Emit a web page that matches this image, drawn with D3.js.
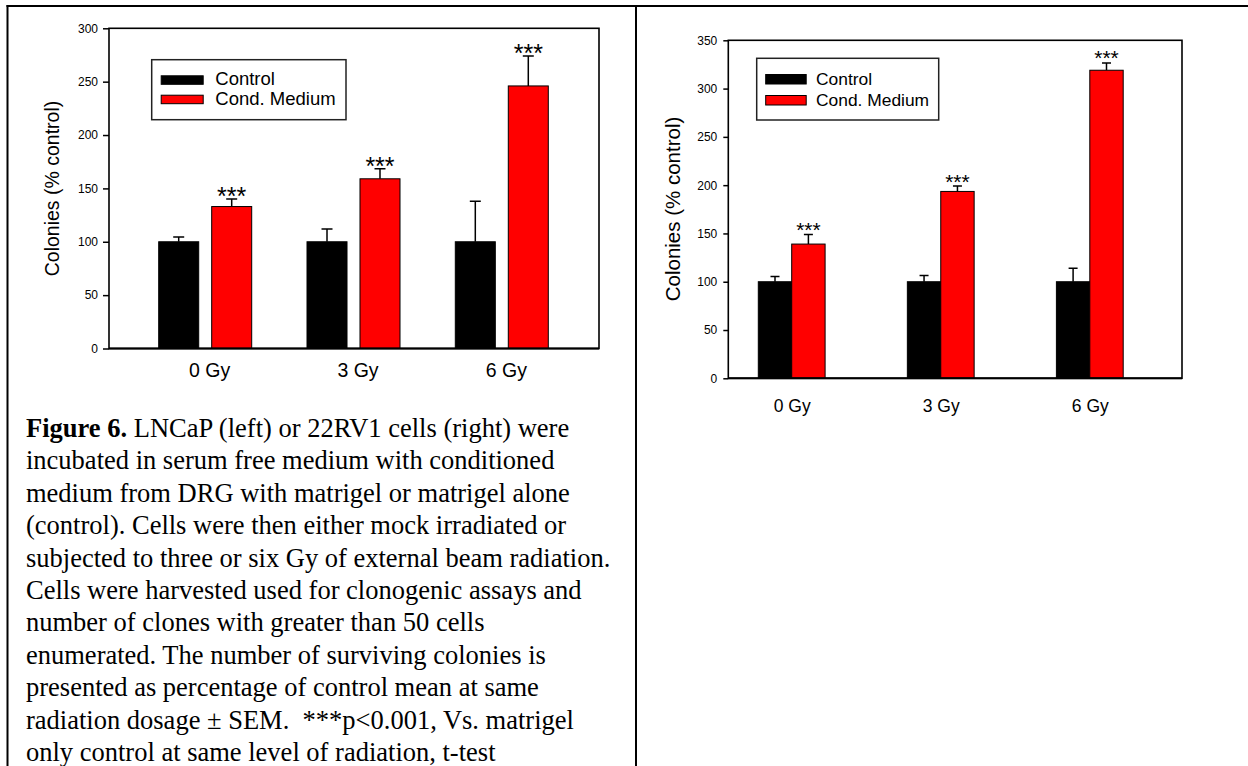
<!DOCTYPE html>
<html>
<head>
<meta charset="utf-8">
<script src="https://d3js.org/d3.v7.min.js"></script>
<style>
  body { margin: 0; background: #fff; }
  svg { display: block; }
</style>
</head>
<body>
<div id="fig"></div>
<script>
// data
var doses = ['0 Gy', '3 Gy', '6 Gy'];
var seriesNames = ['Control', 'Cond. Medium'];
var seriesColors = ['#000000', '#ff0000'];

// LNCaP (left panel)
var lncapControl = [100, 100, 100];
var lncapControlSem = [4.5, 12, 38];
var lncapCond = [133, 159, 246];
var lncapCondSem = [7, 9.5, 28];
var lncapTicks = [0, 50, 100, 150, 200, 250, 300];

// 22RV1 (right panel)
var rv1Control = [100, 100, 100];
var rv1ControlSem = [5.5, 6.5, 14];
var rv1Cond = [139, 193.5, 319];
var rv1CondSem = [10, 5.5, 7.5];
var rv1Ticks = [0, 50, 100, 150, 200, 250, 300, 350];

var stars = ['***', '***', '***'];

var captionLines = [
  'LNCaP (left) or 22RV1 cells (right) were',
  'incubated in serum free medium with conditioned',
  'medium from DRG with matrigel or matrigel alone',
  '(control). Cells were then either mock irradiated or',
  'subjected to three or six Gy of external beam radiation.',
  'Cells were harvested used for clonogenic assays and',
  'number of clones with greater than 50 cells',
  'enumerated. The number of surviving colonies is',
  'presented as percentage of control mean at same',
  'radiation dosage \u00b1 SEM.\u00a0 ***p<0.001, Vs. matrigel',
  'only control at same level of radiation, t-test'
];

var width = 1248;
var height = 766;

var svg = d3.select('#fig').append('svg')
  .attr('width', width)
  .attr('height', height);

// page table frame (top, left, middle divider)
svg.append('line').attr('x1', 6.5).attr('x2', width).attr('y1', 6).attr('y2', 6)
  .attr('stroke', '#000').attr('stroke-width', 2);
svg.append('line').attr('x1', 7.5).attr('x2', 7.5).attr('y1', 5).attr('y2', height)
  .attr('stroke', '#000').attr('stroke-width', 2);
svg.append('line').attr('x1', 636).attr('x2', 636).attr('y1', 5).attr('y2', height)
  .attr('stroke', '#000').attr('stroke-width', 2);

// draws one bar panel given its layout and data
var drawPanel = function(cfg) {
  var g = svg.append('g');

  var y = d3.scaleLinear()
    .domain([0, cfg.ticks[cfg.ticks.length - 1]])
    .range([cfg.bottom, cfg.top]);

  var x = d3.scalePoint()
    .domain(doses)
    .range(cfg.groupRange);

  var inner = d3.scaleBand()
    .domain(seriesNames)
    .range([-cfg.halfGroup, cfg.halfGroup])
    .paddingInner(cfg.barPad);

  var series = [
    {name: seriesNames[0], values: cfg.control, sem: cfg.controlSem, color: seriesColors[0]},
    {name: seriesNames[1], values: cfg.cond, sem: cfg.condSem, color: seriesColors[1]}
  ];

  var rows = [];
  series.forEach(function(s) {
    doses.forEach(function(d, i) {
      rows.push({dose: d, name: s.name, value: s.values[i], sem: s.sem[i], color: s.color, idx: i});
    });
  });

  var barX = function(d) { return x(d.dose) + inner(d.name); };
  var barMid = function(d) { return barX(d) + inner.bandwidth() / 2; };

  // error bars first (only the upper half shows above the bar)
  g.selectAll('.err')
    .data(rows)
    .enter()
    .append('path')
    .attr('fill', 'none')
    .attr('stroke', '#000')
    .attr('stroke-width', 1.5)
    .attr('d', function(d) {
      var cx = barMid(d);
      var top = y(d.value + d.sem);
      return 'M' + cx + ',' + y(d.value) + 'V' + top +
        'M' + (cx - cfg.cap / 2) + ',' + top + 'H' + (cx + cfg.cap / 2);
    });

  g.selectAll('.bar')
    .data(rows)
    .enter()
    .append('rect')
    .attr('x', barX)
    .attr('width', inner.bandwidth())
    .attr('y', function(d) { return y(d.value); })
    .attr('height', function(d) { return y(0) - y(d.value); })
    .attr('fill', function(d) { return d.color; })
    .attr('stroke', '#000')
    .attr('stroke-width', 1);

  // significance stars over the cond. medium bars
  g.selectAll('.star')
    .data(rows.filter(function(d) { return d.name === seriesNames[1]; }))
    .enter()
    .append('text')
    .attr('x', barMid)
    .attr('y', function(d) { return y(d.value + d.sem) + cfg.starDy; })
    .attr('text-anchor', 'middle')
    .style('font-family', 'Arial, "Liberation Sans", sans-serif')
    .style('font-size', cfg.starSize + 'px')
    .text(function(d) { return stars[d.idx]; });

  // plot frame
  g.append('rect')
    .attr('x', cfg.left)
    .attr('y', cfg.top)
    .attr('width', cfg.right - cfg.left)
    .attr('height', cfg.bottom - cfg.top)
    .attr('fill', 'none')
    .attr('stroke', '#000')
    .attr('stroke-width', 1.6);
  g.append('line')
    .attr('x1', cfg.left).attr('x2', cfg.right)
    .attr('y1', cfg.bottom).attr('y2', cfg.bottom)
    .attr('stroke', '#000').attr('stroke-width', 2);

  // y axis
  var yAxis = g.append('g')
    .attr('transform', 'translate(' + cfg.left + ',0)')
    .call(d3.axisLeft(y).tickValues(cfg.ticks).tickSize(cfg.tickLen).tickPadding(cfg.tickPad));
  yAxis.select('.domain').remove();
  yAxis.selectAll('line').attr('stroke', '#000').attr('stroke-width', 1.5);
  yAxis.selectAll('text')
    .attr('fill', '#000')
    .style('font-family', 'Arial, "Liberation Sans", sans-serif')
    .style('font-size', '12px');

  // x axis labels, no tick marks
  var xAxis = g.append('g')
    .attr('transform', 'translate(0,' + cfg.bottom + ')')
    .call(d3.axisBottom(x).tickSize(0).tickPadding(cfg.xPad));
  xAxis.select('.domain').remove();
  xAxis.selectAll('text')
    .attr('fill', '#000')
    .attr('dx', cfg.xDx)
    .attr('dy', 0)
    .style('font-family', 'Arial, "Liberation Sans", sans-serif')
    .style('font-size', cfg.xSize + 'px');

  // y title
  g.append('text')
    .attr('transform', 'translate(' + cfg.titleX + ',' + cfg.titleY + ') rotate(-90)')
    .attr('text-anchor', 'middle')
    .style('font-family', 'Arial, "Liberation Sans", sans-serif')
    .style('font-size', cfg.titleSize + 'px')
    .text('Colonies (% control)');

  // legend
  var lg = g.append('g');
  lg.append('rect')
    .attr('x', cfg.legend.x)
    .attr('y', cfg.legend.y)
    .attr('width', cfg.legend.w)
    .attr('height', cfg.legend.h)
    .attr('fill', '#fff')
    .attr('stroke', '#222')
    .attr('stroke-width', 1.5);
  var items = lg.selectAll('.item')
    .data(series)
    .enter()
    .append('g')
    .attr('transform', function(d, i) {
      return 'translate(0,' + (cfg.legend.y + cfg.legend.first + i * cfg.legend.step) + ')';
    });
  items.append('rect')
    .attr('x', cfg.legend.x + cfg.legend.swX)
    .attr('y', -cfg.legend.swH - 1)
    .attr('width', cfg.legend.swW)
    .attr('height', cfg.legend.swH)
    .attr('fill', function(d) { return d.color; })
    .attr('stroke', '#000')
    .attr('stroke-width', 1);
  items.append('text')
    .attr('x', cfg.legend.x + cfg.legend.textX)
    .attr('y', 0)
    .style('font-family', 'Arial, "Liberation Sans", sans-serif')
    .style('font-size', cfg.legend.size + 'px')
    .text(function(d) { return d.name; });
};

drawPanel({
  control: lncapControl, controlSem: lncapControlSem,
  cond: lncapCond, condSem: lncapCondSem, ticks: lncapTicks,
  left: 109, right: 599, top: 28.3, bottom: 348.5,
  groupRange: [205.2, 501.8], halfGroup: 46.5, barPad: 0.245, cap: 11,
  starSize: 25, starDy: 6,
  tickLen: 6, tickPad: 5, xPad: 28, xDx: 4, xSize: 19.5,
  titleX: 59, titleY: 188.5, titleSize: 19.5,
  legend: {x: 151.7, y: 59.7, w: 194.3, h: 60, first: 25.6, step: 19.4,
    swX: 9.5, swW: 42, swH: 8.5, textX: 63.6, size: 18.5}
});

drawPanel({
  control: rv1Control, controlSem: rv1ControlSem,
  cond: rv1Cond, condSem: rv1CondSem, ticks: rv1Ticks,
  left: 728.3, right: 1182, top: 40.3, bottom: 378.3,
  groupRange: [791.7, 1089.8], halfGroup: 33.4, barPad: 0, cap: 9,
  starSize: 21, starDy: 2.5,
  tickLen: 5, tickPad: 6, xPad: 33.4, xDx: 0, xSize: 17.5,
  titleX: 680.4, titleY: 209, titleSize: 20.5,
  legend: {x: 756.7, y: 58.3, w: 182, h: 61.7, first: 26.7, step: 21,
    swX: 9, swW: 40.5, swH: 9.5, textX: 59.3, size: 17.4}
});

// caption under the left panel
var cap = svg.append('text')
  .style('font-family', '"Liberation Serif", "Times New Roman", serif')
  .style('font-size', '26.5px')
  .attr('fill', '#000');

captionLines.forEach(function(line, i) {
  var t = cap.append('tspan')
    .attr('x', 26)
    .attr('y', 437 + i * 32.4);
  if (i === 0) {
    t.append('tspan').style('font-weight', 'bold').text('Figure 6.');
    t.append('tspan').text(' ' + line);
  } else {
    t.text(line);
  }
});
</script>
</body>
</html>
